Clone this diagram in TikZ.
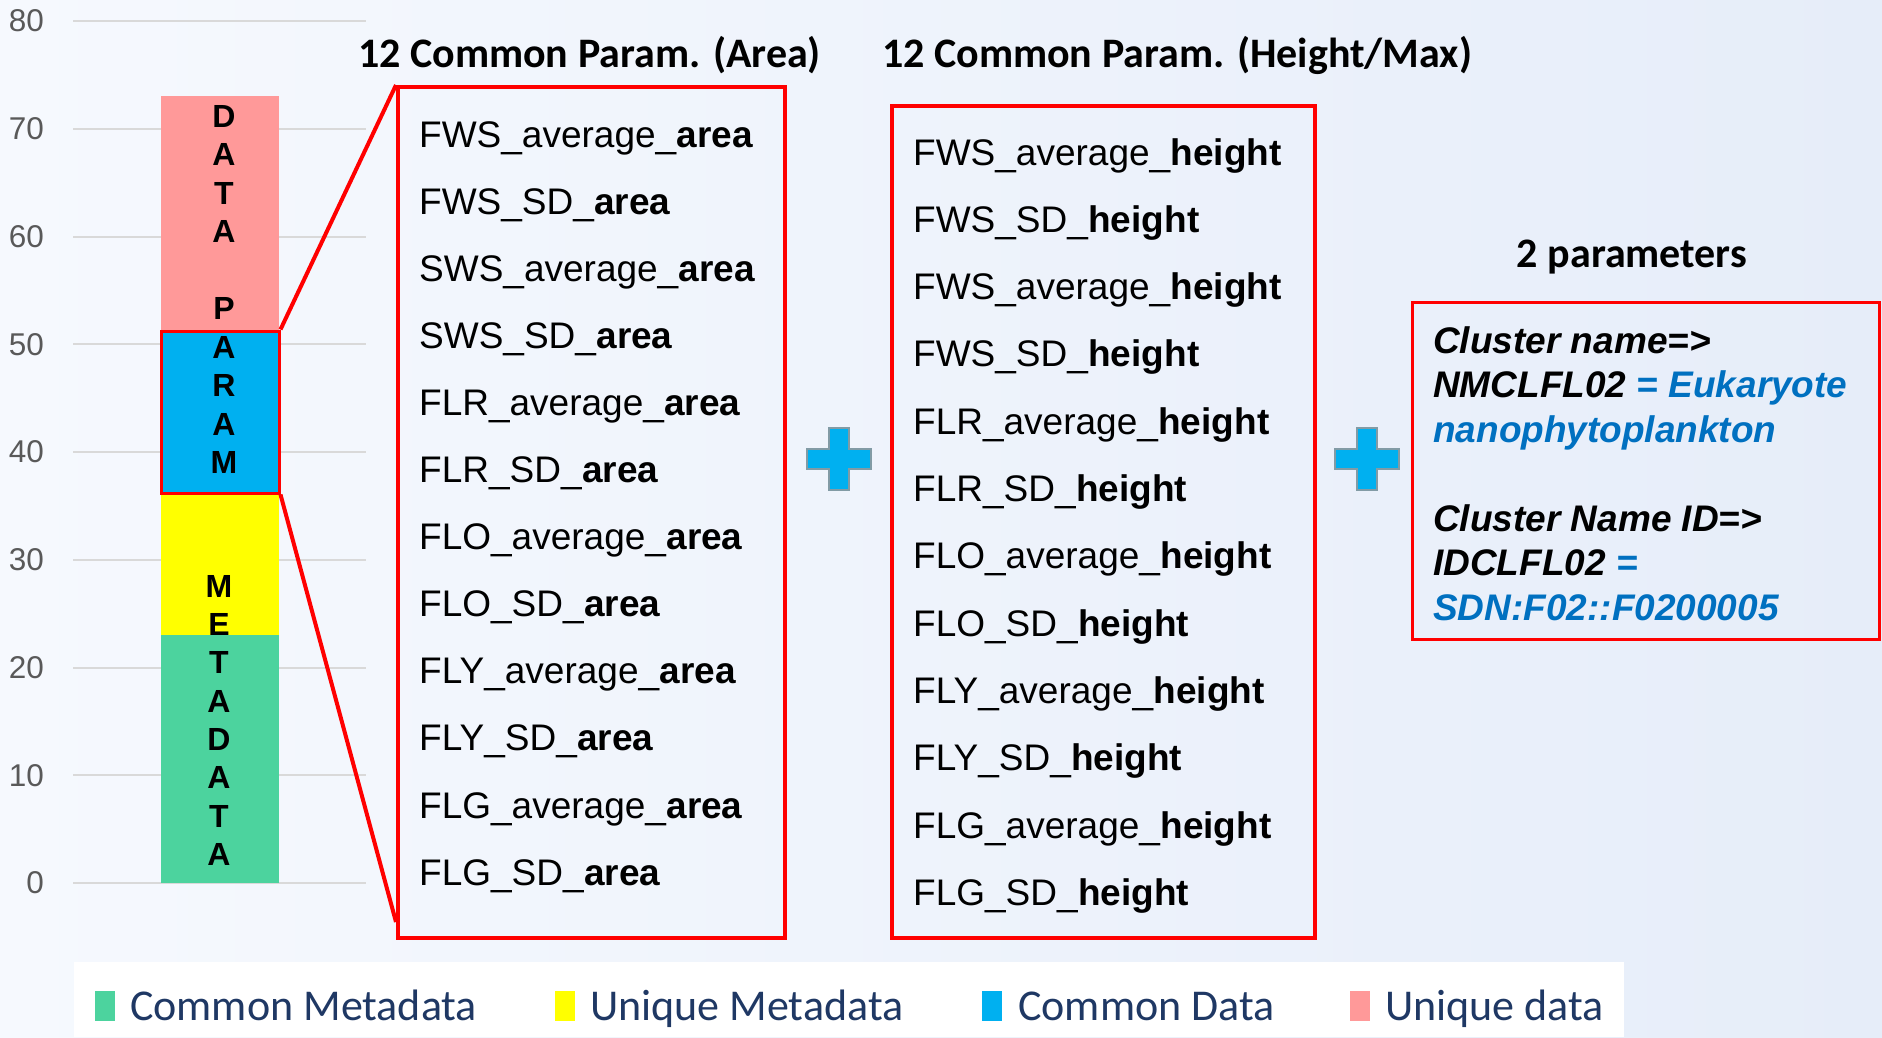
\documentclass[tikz,border=0pt]{standalone}
\usepackage{fontspec}
\setmainfont{Liberation Sans}
\newfontfamily\calib{Carlito}
\usetikzlibrary{calc}
\definecolor{redline}{RGB}{255,0,0}
\definecolor{cblue}{RGB}{0,176,240}
\definecolor{cpink}{RGB}{255,153,153}
\definecolor{cyellow}{RGB}{255,255,0}
\definecolor{cgreen}{RGB}{76,211,158}
\definecolor{axgray}{RGB}{89,89,89}
\definecolor{gridgray}{RGB}{217,217,217}
\definecolor{legblue}{RGB}{31,56,100}
\definecolor{txtblue}{RGB}{0,112,192}
\definecolor{plusedge}{RGB}{130,155,165}
\definecolor{bgl}{RGB}{246,249,254}
\definecolor{bgr}{RGB}{230,237,249}
\begin{document}
\begin{tikzpicture}[x=1pt,y=-1pt,
  seg/.style={rectangle, inner sep=0pt, minimum width=118},
  redbox/.style={rectangle, draw=redline, line width=4pt, inner sep=0pt},
  redcon/.style={draw=redline, line width=4pt},
  entry/.style={anchor=base west, inner sep=0pt, font=\fontsize{37}{44}\selectfont},
  title/.style={anchor=base west, inner sep=0pt, font=\calib\bfseries\fontsize{42}{50}\selectfont},
  axlab/.style={anchor=east, inner sep=0pt, text=axgray, font=\fontsize{31.5}{36}\selectfont},
  barlet/.style={anchor=north, inner sep=0pt, align=center, font=\bfseries\fontsize{32}{38.5}\selectfont},
  legsq/.style={rectangle, inner sep=0pt, minimum width=20, minimum height=30},
  legtxt/.style={anchor=base west, inner sep=0pt, text=legblue, font=\calib\fontsize{44}{50}\selectfont},
  pics/plussign/.style={code={
    \filldraw[fill=cblue, draw=plusedge, line width=2pt]
      (-10,-31) -- (10,-31) -- (10,-10) -- (32,-10) -- (32,10) -- (10,10) -- (10,31)
      -- (-10,31) -- (-10,10) -- (-32,10) -- (-32,-10) -- (-10,-10) -- cycle;}}
]
\useasboundingbox (0,0) rectangle (1882,1037);
\shade[left color=bgl, right color=bgr] (0,0) rectangle (1882,1037);
\fill[white] (74,962) rectangle (1624,1037);

% axis grid and labels
\foreach \v [count=\k from 0] in {0,10,20,30,40,50,60,70,80} {
  \draw[gridgray, line width=2pt] (73,883-107.75*\k) -- (366,883-107.75*\k);
  \node[axlab] (ax\v) at (44,883-107.75*\k) {\v};
}

% stacked bar
\node[seg, fill=cgreen, minimum height=248] (green) at (220,759) {};
\node[seg, fill=cyellow, minimum height=142] (yellow) at (220,564) {};
\node[seg, fill=cpink, minimum height=235] (pink) at (220,213.5) {};
\node[seg, fill=cblue, draw=redline, line width=3pt, minimum height=162] (blue) at (220,412) {};
\node[barlet] (lbdata) at (224,105) {D\\A\\T\\A\\\mbox{}\\P\\A\\R\\A\\M};
\node[barlet, font=\bfseries\fontsize{32}{38.3}\selectfont] (lbmeta) at (219,575) {M\\E\\T\\A\\D\\A\\T\\A};

% titles
\node[title] (t1) at (358,67) {12 Common Param. (Area)};
\node[title] (t2) at (882,67) {12 Common Param. (Height/Max)};

% area box
\node[redbox, minimum width=387, minimum height=851] (area) at (591.5,512.5) {};
\draw[redcon] (blue.north east) -- (area.north west);
\coordinate (abot) at ($(area.south west)+(0,-18)$);
\draw[redcon] (blue.south east) -- (abot);
\foreach \a/\b [count=\i from 0] in {FWS/average,FWS/SD,SWS/average,SWS/SD,FLR/average,FLR/SD,FLO/average,FLO/SD,FLY/average,FLY/SD,FLG/average,FLG/SD} {
  \node[entry] (a\i) at (419,147+67.1*\i) {\a\_\b\_\textbf{area}};
}

% height box
\node[redbox, minimum width=423, minimum height=832] (hgt) at (1103.5,522) {};
\foreach \a/\b [count=\i from 0] in {FWS/average,FWS/SD,FWS/average,FWS/SD,FLR/average,FLR/SD,FLO/average,FLO/SD,FLY/average,FLY/SD,FLG/average,FLG/SD} {
  \node[entry] (h\i) at (913,165+67.3*\i) {\a\_\b\_\textbf{height}};
}

% plus signs
\pic at (839,459) {plussign};
\pic at (1367,459) {plussign};

% cluster box
\node[anchor=base, inner sep=0pt, font=\calib\bfseries\fontsize{42}{50}\selectfont] (t3) at (1632,267) {2 parameters};
\node[redbox, line width=3pt, minimum width=467, minimum height=337] (clu) at (1645.5,470.5) {};
\node[anchor=north west, inner sep=0pt, align=left, font=\bfseries\itshape\fontsize{37}{44.5}\selectfont] (clutxt) at (1433,326) {Cluster name=>\\
NMCLFL02 {\color{txtblue}= Eukaryote}\\
{\color{txtblue}nanophytoplankton}\\
\mbox{}\\
Cluster Name ID=>\\
IDCLFL02 {\color{txtblue}=}\\
{\color{txtblue}SDN:F02::F0200005}};

% legend
\node[legsq, fill=cgreen] (sq1) at (104.5,1006) {};
\node[legtxt] (lg1) at (130,1020) {Common Metadata};
\node[legsq, fill=cyellow] (sq2) at (565,1006) {};
\node[legtxt] (lg2) at (590,1020) {Unique Metadata};
\node[legsq, fill=cblue] (sq3) at (992,1006) {};
\node[legtxt] (lg3) at (1018,1020) {Common Data};
\node[legsq, fill=cpink] (sq4) at (1360,1006) {};
\node[legtxt] (lg4) at (1385,1020) {Unique data};
\end{tikzpicture}
\end{document}
